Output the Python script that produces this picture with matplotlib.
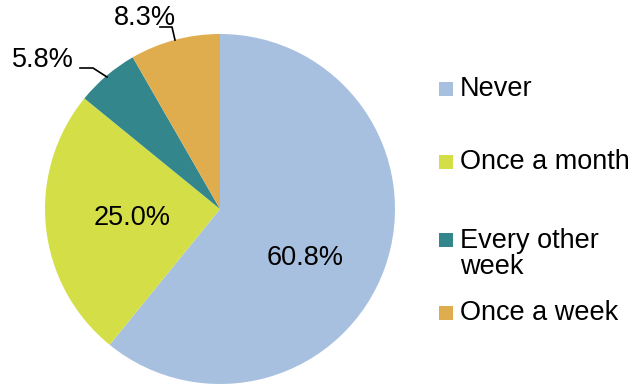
import matplotlib.pyplot as plt
from matplotlib.patches import Rectangle

plt.rcParams['font.family'] = ['Liberation Sans', 'DejaVu Sans']

labels = ['Never', 'Once a month', 'Every other\nweek', 'Once a week']
values = [60.8, 25.0, 5.8, 8.3]
colors = ['#A8C0E0', '#D4DF48', '#33878C', '#E0AD4E']

W, H = 632, 384
fig = plt.figure(figsize=(W / 100, H / 100), dpi=100)
ax = fig.add_axes([0, 0, 1, 1])

cx, cy, r = 220, H - 209, 175
ax.pie(values, colors=colors, startangle=90, counterclock=False,
       center=(cx, cy), radius=r, frame=True,
       wedgeprops=dict(linewidth=0))

# percentage labels (pixel positions measured from top-left)
label_pos = [(305, 258), (132, 218), (43, 60), (145, 18)]
for v, (px, py) in zip(values, label_pos):
    ax.text(px, H - py, f'{v:.1f}%', fontsize=19.5, ha='center', va='center')

# leader lines for the two small slices
ax.plot([80, 93, 107], [H - 68, H - 68, H - 77], color='black', lw=1.2)
ax.plot([160, 172, 175], [H - 27, H - 27, H - 40], color='black', lw=1.2)

# legend: square sits beside the first line of each label
leg_y = [89, 162, 240, 313]
for lab, col, py in zip(labels, colors, leg_y):
    ax.add_patch(Rectangle((439, H - py - 7), 14, 14, facecolor=col, lw=0))
    n = lab.count('\n')
    ax.text(460, H - py - 14 * n, lab, fontsize=19.5, ha='left', va='center',
            linespacing=1.0)

ax.set_xlim(0, W)
ax.set_ylim(0, H)
ax.set_aspect('equal')
ax.axis('off')

fig.savefig('out.png', dpi=100)
